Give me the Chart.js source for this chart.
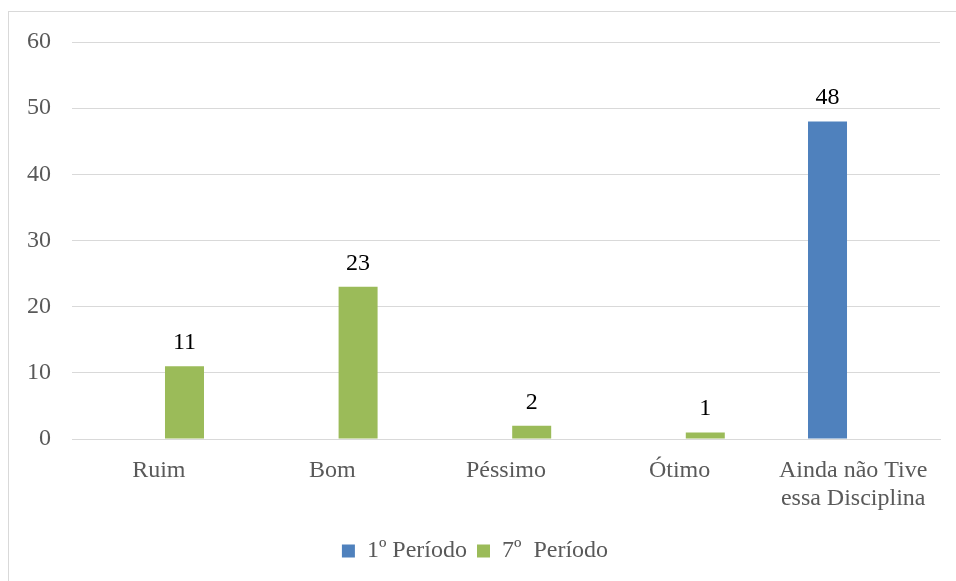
<!DOCTYPE html>
<html>
<head>
<meta charset="utf-8">
<script src="https://cdn.jsdelivr.net/npm/chart.js@4"></script>
<style>
  html, body { margin:0; padding:0; background:#fff; overflow:hidden; }
  #wrap { position:relative; width:956px; height:581px; }
  #frame { position:absolute; left:8px; top:11px; width:1200px; height:1200px; border:1px solid #d9d9d9; box-sizing:border-box; }
  canvas { position:absolute; left:0; top:0; }
</style>
</head>
<body>
<div id="wrap">
  <div id="frame"></div>
  <canvas id="c" width="956" height="581"></canvas>
</div>
<script>
const categories = ['Ruim', 'Bom', 'Péssimo', 'Ótimo', ['Ainda não Tive', 'essa Disciplina']];
const seriesNames = ['1º Período', '7º  Período'];
const periodo1 = [0, 0, 0, 0, 48];
const periodo7 = [11, 23, 2, 1, 0];
const yTicks = [0, 10, 20, 30, 40, 50, 60];

const FONT = "'Liberation Serif', 'Times New Roman', serif";

const valueLabels = {
  id: 'valueLabels',
  afterDatasetsDraw(chart) {
    const ctx = chart.ctx;
    ctx.save();
    ctx.font = "24px " + FONT;
    ctx.fillStyle = '#000000';
    ctx.textAlign = 'center';
    ctx.textBaseline = 'alphabetic';
    chart.data.datasets.forEach((ds, i) => {
      const meta = chart.getDatasetMeta(i);
      meta.data.forEach((bar, j) => {
        const v = ds.data[j];
        if (!v) return;
        ctx.fillText(String(v), bar.x, bar.y - 17);
      });
    });
    ctx.restore();
  }
};

new Chart(document.getElementById('c'), {
  type: 'bar',
  data: {
    labels: categories,
    datasets: [
      { label: seriesNames[0], data: periodo1, backgroundColor: '#4F81BD', borderWidth: 0 },
      { label: seriesNames[1], data: periodo7, backgroundColor: '#9BBB59', borderWidth: 0 }
    ]
  },
  options: {
    responsive: false,
    animation: false,
    devicePixelRatio: 1,
    categoryPercentage: 0.592,
    barPercentage: 0.759,
    layout: { padding: { left: 10, right: 16, top: 42, bottom: 8 } },
    plugins: {
      tooltip: { enabled: false },
      legend: {
        position: 'bottom',
        labels: {
          boxWidth: 13, boxHeight: 13, padding: 10,
          color: '#595959',
          font: { family: FONT, size: 24 }
        }
      }
    },
    scales: {
      x: {
        grid: { display: false, drawTicks: false },
        border: { display: true, color: '#d9d9d9', width: 1 },
        ticks: { color: '#595959', padding: 18, maxRotation: 0, autoSkip: false,
                 font: { family: FONT, size: 24, lineHeight: 1.15 } },
        afterFit(scale) { scale.height = 90; }
      },
      y: {
        min: 0, max: 60,
        afterBuildTicks(scale) { scale.ticks = yTicks.map(v => ({ value: v })); },
        grid: { color: '#d9d9d9', lineWidth: 1, drawTicks: false },
        border: { display: false },
        ticks: { color: '#595959', padding: 21, font: { family: FONT, size: 24 } },
        afterFit(scale) { scale.width = 62; }
      }
    }
  },
  plugins: [valueLabels]
});
</script>
</body>
</html>
